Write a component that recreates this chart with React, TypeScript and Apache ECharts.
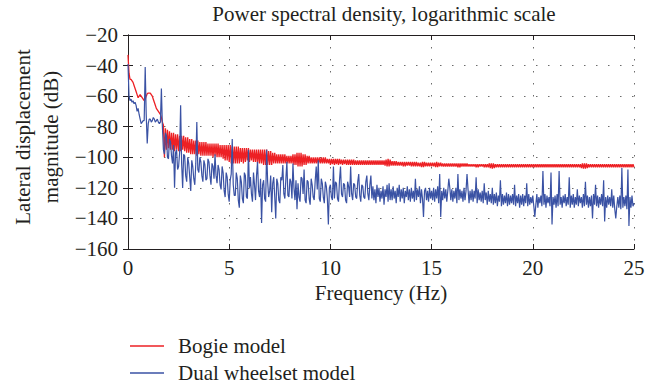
import React, { useEffect, useRef } from "react";
import * as echarts from "echarts";

// Spectra sampled every 0.05 Hz from 0 to 25 Hz (values in dB), one row per hertz
const freqStep = 0.05;

const bogieDb = [
  -33, -45, -49, -49, -50, -51, -53, -55, -57, -59, -61, -60, -59, -60, -61, -62, -63, -62, -60, -58.5,
  -58, -58, -58, -59, -60, -62, -64, -66, -68, -69, -70, -71, -72, -74, -77, -79, -100, -81, -95, -82,
  -94, -83, -95, -84, -95, -84, -96, -85, -95, -85, -96, -86, -96, -86, -95, -86, -96, -87, -97, -87,
  -97, -88, -98, -88, -98, -89, -98, -89, -99, -89, -98, -90, -99, -90, -99, -90, -99, -90, -99, -91,
  -99, -91, -99, -91, -100, -91, -99, -91, -100, -91, -100, -92, -100, -92, -101, -92, -102, -92, -102, -92,
  -103, -92, -104, -93, -104, -93, -104, -93, -104, -93, -104, -94, -103, -94, -104, -94, -103, -94, -102, -94,
  -103, -95, -102, -95, -103, -95, -103, -95, -104, -95, -104, -95, -104, -95, -105, -95, -105, -95, -105, -96,
  -105, -96, -105, -97, -104, -97, -104, -98, -104, -98, -104, -98, -104, -98, -104, -98, -104, -99, -104, -99,
  -104, -99, -104, -98, -105, -98, -105, -97, -106, -97, -106, -97, -106, -98, -105, -98, -105, -99, -104, -99,
  -104, -100, -104, -100, -104, -100, -104, -100, -104, -100, -104, -100, -104, -100, -104, -100, -104, -101, -104, -101,
  -105, -101, -104.5, -101, -105, -101, -104.5, -101, -105, -101, -104.5, -101.5, -105, -101.5, -104.5, -101.5, -105, -101.5, -105, -101.5,
  -105, -101.5, -105, -101.5, -105, -102, -105, -102, -105, -102, -105, -102, -105, -102, -105, -102, -105, -102, -105, -102,
  -105, -102, -105, -102, -105, -102, -105, -102, -105, -102, -105, -102, -105, -102, -105.5, -101.5, -106, -101, -106, -101.5,
  -105.5, -102.5, -105.5, -102.5, -105.5, -102.5, -105.5, -103, -105.5, -103, -105.5, -103, -106, -103, -106, -103, -105.5, -103, -105.5, -103,
  -106, -103, -106, -103, -106, -103, -106, -103.5, -106, -103.5, -106.5, -103, -106.5, -103, -106, -103.5, -106, -103.5, -106, -103.5,
  -106, -103.5, -106, -103.5, -106.5, -103, -106.5, -103.5, -106, -103.5, -106, -104, -106, -104, -106, -104, -106, -104, -106, -104,
  -106, -104, -106, -104, -106, -104, -106.5, -104, -106.5, -104, -106, -104, -106, -104, -106, -104, -106, -104.5, -106, -104.5,
  -106, -104.5, -106, -104.5, -106.5, -104.5, -106.5, -104.5, -106, -104.5, -106, -104.5, -106.5, -104.5, -106.5, -104.5, -106.5, -104, -107, -104,
  -107.5, -104, -107, -104.5, -106.5, -104.5, -106.5, -104.5, -106.5, -104.5, -106.5, -104.5, -106.5, -104.5, -106.5, -104.5, -106.5, -104.5, -106.5, -104.5,
  -106.5, -104.5, -106.5, -104.5, -106.5, -104.5, -106.5, -104.5, -106.5, -104.5, -106.5, -104.5, -106.5, -104.5, -106.5, -104.5, -106.5, -104.5, -106.5, -104.5,
  -106.5, -104.5, -106.5, -104.5, -106.5, -104.5, -106.5, -104.5, -106.5, -104.5, -106.5, -104.5, -106.5, -104.5, -106.5, -104.5, -106.5, -104.5, -106.5, -104.5,
  -106.5, -104.5, -106.5, -104.5, -106.5, -104.5, -106.5, -104.5, -106.5, -104.5, -106.5, -104.5, -106.5, -104.5, -106.5, -104.5, -106.5, -104.5, -106.5, -104.5,
  -106.5, -104.5, -106.5, -104.5, -106.5, -104.5, -106.5, -104.5, -107, -104, -107.5, -104, -107.5, -104, -107, -104.5, -106.5, -104.5, -106.5, -104.5,
  -106.5, -104.5, -106.5, -104.5, -106.5, -104.5, -106.5, -104.5, -106.5, -104.5, -106.5, -104.5, -106.5, -104.5, -106.5, -104.5, -106.5, -104.5, -106.5, -104.5,
  -106.5, -104.5, -106.5, -104.5, -106.5, -104.5, -106.5, -104.5, -106.5, -104.5, -106.5, -104.5, -106.5, -104.5, -106.5, -104.5, -106.5, -104.5, -106.5, -104.5,
  -106.5,
];

const dualWheelsetDb = [
  -39, -60, -63, -62, -64, -63, -65, -64, -66, -70, -68, -72, -75, -78, -77, -76, -76, -41, -72, -91,
  -78, -75, -75, -77, -76, -74, -75, -77, -76, -75, -77, -78, -77, -55, -80, -95, -98, -84, -86, -100,
  -101, -88, -90, -99, -104, -92, -120, -97, -95, -108, -106, -97, -66, -104, -120, -98, -99, -112, -116, -100,
  -104, -113, -122, -102, -106, -114, -118, -104, -77, -108, -110, -100, -103, -112, -116, -102, -105, -115, -114, -101,
  -103, -112, -118, -104, -106, -114, -98, -112, -117, -105, -108, -118, -121, -106, -110, -122, -126, -110, -113, -124,
  -129, -115, -111, -88, -118, -125, -125, -110, -114, -128, -133, -112, -116, -127, -130, -110, -112, -126, -127, -95,
  -120, -113, -124, -129, -110, -118, -128, -112, -103, -122, -126, -114, -143, -118, -115, -127, -129, -95, -116, -126,
  -122, -112, -136, -117, -113, -126, -140, -114, -117, -128, -130, -113, -115, -105, -124, -127, -114, -103, -125, -126,
  -114, -116, -127, -104, -120, -128, -115, -134, -117, -126, -129, -113, -114, -124, -108, -128, -130, -115, -116, -127,
  -131, -114, -118, -126, -128, -115, -106, -121, -102, -127, -129, -114, -117, -126, -130, -116, -119, -127, -144, -120,
  -118, -126, -128, -106, -127, -116, -117, -127, -129, -115, -106, -124, -126, -117, -118, -128, -130, -116, -119, -126,
  -106, -124, -128, -117, -118, -126, -127, -116, -111, -125, -129, -118, -119, -126, -127, -116, -112, -124, -128, -118,
  -112, -127, -119, -128, -121, -130, -118, -126, -120, -129, -122, -127, -119, -131, -121, -126, -118, -129, -117, -128,
  -121, -128, -119, -127, -122, -130, -120, -126, -118, -129, -121, -127, -120, -130, -122, -126, -119, -128, -121, -129,
  -120, -127, -122, -129, -114, -128, -121, -126, -119, -130, -121, -127, -139, -122, -120, -128, -122, -129, -120, -127,
  -122, -128, -120, -129, -121, -127, -119, -130, -111, -139, -122, -128, -120, -127, -121, -129, -122, -114, -120, -128,
  -121, -129, -122, -127, -120, -130, -111, -128, -121, -127, -122, -129, -120, -128, -122, -111, -121, -130, -122, -128,
  -121, -129, -122, -127, -113, -130, -121, -128, -123, -129, -122, -130, -117, -128, -123, -131, -122, -129, -124, -130,
  -120, -131, -124, -130, -123, -132, -125, -129, -115, -132, -124, -131, -125, -130, -123, -132, -124, -131, -125, -130,
  -124, -131, -118, -132, -125, -130, -124, -133, -125, -131, -124, -132, -125, -130, -117, -132, -124, -131, -126, -130,
  -125, -132, -139, -131, -124, -133, -126, -130, -125, -132, -109, -131, -124, -133, -125, -130, -126, -132, -110, -144,
  -126, -131, -125, -133, -124, -132, -109, -131, -126, -133, -125, -130, -124, -132, -126, -131, -113, -133, -125, -131,
  -124, -133, -126, -131, -121, -132, -125, -130, -126, -133, -124, -132, -116, -131, -125, -133, -126, -132, -125, -140,
  -124, -131, -118, -132, -125, -133, -126, -131, -124, -132, -115, -142, -126, -133, -125, -131, -126, -132, -121, -133,
  -125, -134, -140, -132, -126, -133, -125, -134, -107, -133, -126, -132, -125, -134, -108, -145, -126, -133, -125, -132,
  -130,
];

const seriesNames = ["Bogie model", "Dual wheelset model"];
const seriesColors = ["#ed2024", "#3a52a4"];

const titleText = "Power spectral density, logarithmic scale";
const xAxisTitle = "Frequency (Hz)";
const yAxisTitleLines = ["Lateral displacement", "magnitude (dB)"];

const xMin = 0;
const xMax = 25;
const xInterval = 5;
const yMin = -160;
const yMax = -20;
const yInterval = 20;

const FONT = "'Liberation Serif', 'Times New Roman', serif";
const INK = "#231f20";

const toPairs = (vals: number[]) =>
  vals.map((v, i) => [Math.round(i * freqStep * 100) / 100, v]);

const label = (text: string, x: number, y: number, extra: object = {}) => ({
  type: "text",
  x,
  y,
  ...extra,
  style: {
    text,
    font: `21px ${FONT}`,
    fill: INK,
    textAlign: "center",
    textVerticalAlign: "middle",
  },
});

// Legend key: a short coloured stroke followed by the series name
const legendRow = (i: number, y: number) => [
  {
    type: "line",
    shape: { x1: 130, y1: y, x2: 164, y2: y },
    style: { stroke: seriesColors[i], lineWidth: 1.4 },
  },
  {
    type: "text",
    x: 178,
    y,
    style: {
      text: seriesNames[i],
      font: `21px ${FONT}`,
      fill: INK,
      textAlign: "left",
      textVerticalAlign: "middle",
    },
  },
];

export default function App() {
  const ref = useRef<HTMLDivElement>(null);

  useEffect(() => {
    if (!ref.current) return;
    const chart = echarts.init(ref.current, null, { renderer: "svg" });

    const boxLine = { show: true, lineStyle: { color: INK, width: 1 } };
    const tickIn = { show: true, inside: true, length: 5, lineStyle: { color: INK, width: 1 } };
    const dotted = { show: true, lineStyle: { color: "#6b6b6b", width: 1, type: [1.5, 10.5] } };

    chart.setOption({
      animation: false,
      backgroundColor: "#ffffff",
      grid: { left: 128, top: 35, right: 27, bottom: 140 },
      graphic: [
        label(titleText, 384, 14),
        label(yAxisTitleLines[0], 23, 137, { rotation: Math.PI / 2 }),
        label(yAxisTitleLines[1], 51, 137, { rotation: Math.PI / 2 }),
        ...legendRow(0, 346),
        ...legendRow(1, 373),
      ],
      xAxis: [
        {
          type: "value",
          min: xMin,
          max: xMax,
          interval: xInterval,
          position: "bottom",
          axisLine: boxLine,
          axisTick: tickIn,
          splitLine: dotted,
          axisLabel: { fontFamily: FONT, fontSize: 21, color: INK, margin: 8 },
          name: xAxisTitle,
          nameLocation: "middle",
          nameGap: 33,
          nameTextStyle: { fontFamily: FONT, fontSize: 21, color: INK },
        },
        {
          type: "value",
          min: xMin,
          max: xMax,
          interval: xInterval,
          position: "top",
          axisLine: boxLine,
          axisTick: tickIn,
          splitLine: { show: false },
          axisLabel: { show: false },
        },
      ],
      yAxis: [
        {
          type: "value",
          min: yMin,
          max: yMax,
          interval: yInterval,
          position: "left",
          axisLine: boxLine,
          axisTick: tickIn,
          splitLine: dotted,
          axisLabel: {
            fontFamily: FONT,
            fontSize: 21,
            color: INK,
            margin: 10,
            formatter: (v: number) => String(v).replace("-", "\u2212"),
          },
        },
        {
          type: "value",
          min: yMin,
          max: yMax,
          interval: yInterval,
          position: "right",
          axisLine: boxLine,
          axisTick: tickIn,
          splitLine: { show: false },
          axisLabel: { show: false },
        },
      ],
      series: [
        {
          name: seriesNames[0],
          type: "line",
          xAxisIndex: 0,
          yAxisIndex: 0,
          data: toPairs(bogieDb),
          symbol: "none",
          lineStyle: { color: seriesColors[0], width: 1.3 },
          itemStyle: { color: seriesColors[0] },
        },
        {
          name: seriesNames[1],
          type: "line",
          xAxisIndex: 0,
          yAxisIndex: 0,
          data: toPairs(dualWheelsetDb),
          symbol: "none",
          lineStyle: { color: seriesColors[1], width: 1.2 },
          itemStyle: { color: seriesColors[1] },
        },
      ],
    });

    return () => chart.dispose();
  }, []);

  return (
    <div
      ref={ref}
      style={{ position: "absolute", left: 0, top: 0, width: 661, height: 389 }}
    />
  );
}
